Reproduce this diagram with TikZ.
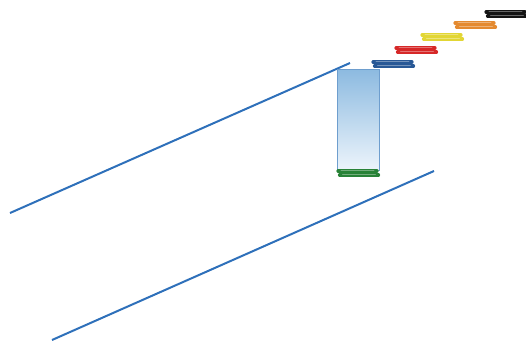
\documentclass[tikz,border=0pt]{standalone}
\definecolor{linjeblue}{RGB}{46,112,186}
\definecolor{boxtop}{RGB}{140,186,224}
\definecolor{boxbot}{RGB}{236,244,251}
\definecolor{boxedge}{RGB}{110,158,206}
\definecolor{barblue}{RGB}{40,88,150}
\definecolor{barred}{RGB}{214,40,40}
\definecolor{baryellow}{RGB}{226,214,52}
\definecolor{barorange}{RGB}{228,138,48}
\definecolor{bargreen}{RGB}{40,130,55}
\definecolor{barblack}{RGB}{20,20,20}
\tikzset{
  linje/.style={linjeblue,line width=2pt},
  streck/.style={line width=3.2pt,line cap=round},
  glans/.style={white,opacity=0.35,line width=0.9pt,line cap=round}
}
\begin{document}
\begin{tikzpicture}[x=1pt,y=-1pt]
  \useasboundingbox (0,0) rectangle (526,343);
  % Linjer
  \draw[linje] (10,213) -- (350,63);
  \draw[linje] (52,340) -- (434,171);
  % Box
  \shade[top color=boxtop,bottom color=boxbot,draw=boxedge,line width=0.7pt]
    (337,69) rectangle (379,170);
  % Streck
  \foreach \x/\y/\c in {338/171/bargreen,373/62/barblue,396/48/barred,
                        422/35/baryellow,455/23/barorange,486/12/barblack}
  {
    \draw[streck,\c] (\x,\y) -- ++(39,0);
    \draw[streck,\c] (\x+1.5,\y+4) -- ++(39,0);
    \draw[glans] (\x+3,\y-0.4) -- ++(33,0);
    \draw[glans] (\x+4.5,\y+3.6) -- ++(33,0);
  }
\end{tikzpicture}
\end{document}
